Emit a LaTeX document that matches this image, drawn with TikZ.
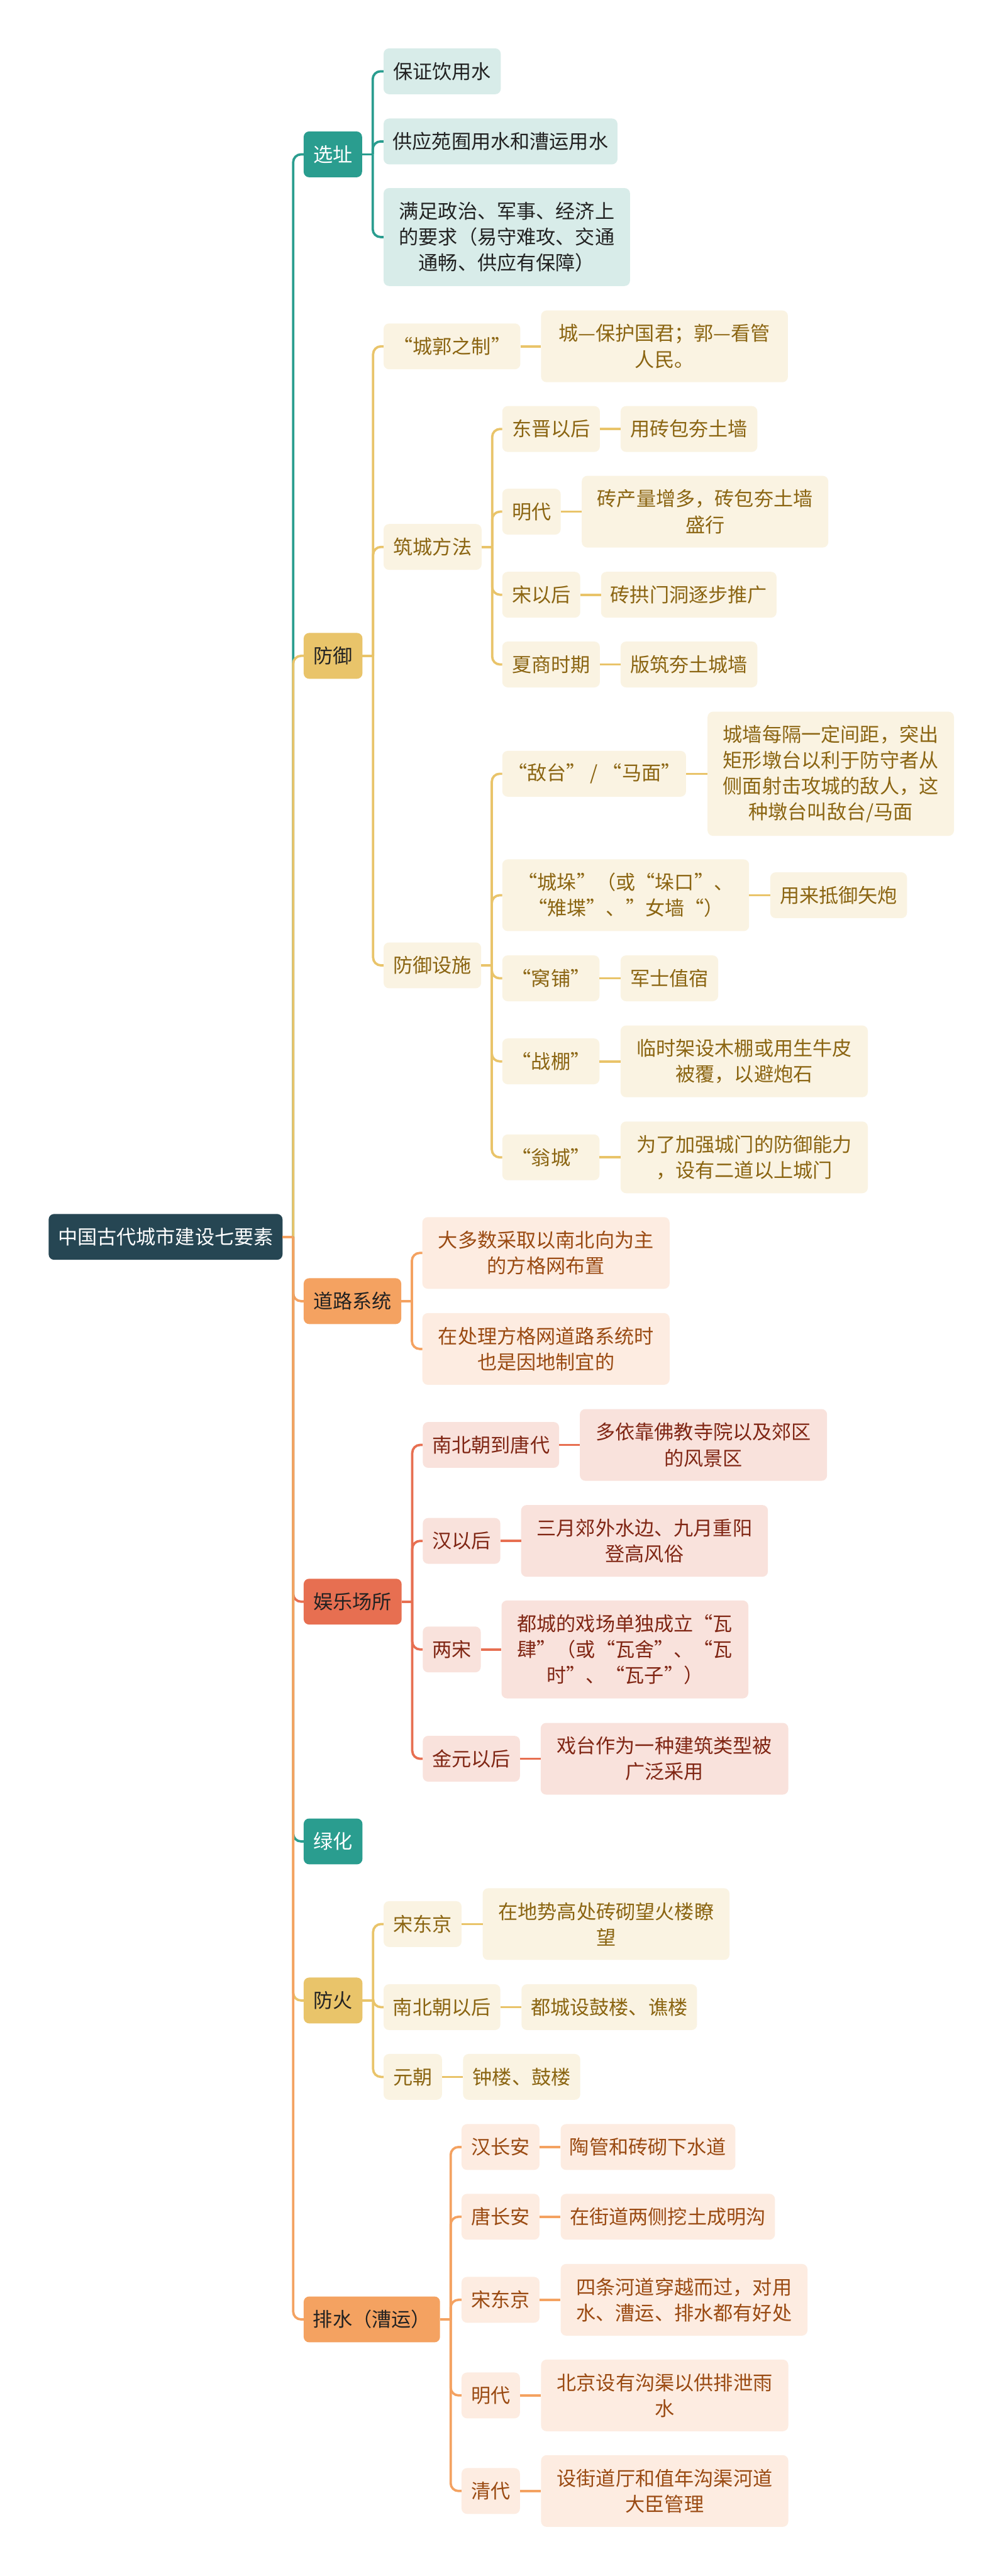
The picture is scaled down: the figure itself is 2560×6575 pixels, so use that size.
\documentclass[tikz,border=0pt]{standalone}
\usepackage{fontspec}
\setmainfont{Noto Sans CJK SC}
\usetikzlibrary{calc}
\definecolor{cRoot}{HTML}{264653}
\definecolor{cTeal}{HTML}{2A9D8F}
\definecolor{cTealL}{HTML}{D8ECE9}
\definecolor{cGold}{HTML}{E9C46A}
\definecolor{cGoldL}{HTML}{FAF3E2}
\definecolor{cGoldT}{HTML}{8B6512}
\definecolor{cOra}{HTML}{F4A261}
\definecolor{cOraL}{HTML}{FDECE1}
\definecolor{cOraT}{HTML}{9A4A12}
\definecolor{cRed}{HTML}{E76F51}
\definecolor{cRedL}{HTML}{F9E2DC}
\definecolor{cRedT}{HTML}{802614}
\definecolor{cDark}{HTML}{222222}
\newcommand\mmfs{\fontsize{50pt}{66pt}\selectfont}
\newcommand\mmbranch[3]{%
  \draw[conn,#1] (#2.east) -- ++(27,0);
  \draw[conn,#1,rounded corners=20pt] ($(#2.east)+(27,0)$) |- (#3.west);}
\newcommand\mmleaf[3]{\draw[conn,#1] (#2.east) -- (#3.west);}
\tikzset{
  conn/.style={line width=6pt},
  nd/.style={rounded corners=14pt, inner sep=0pt, align=center, anchor=west, font=\mmfs},
  wh/.style 2 args={minimum width=#1pt, minimum height=#2pt},
  rootn/.style={nd, fill=cRoot, text=white},
  tealA/.style={nd, fill=cTeal, text=white},
  tealB/.style={nd, fill=cTealL, text=cDark},
  goldA/.style={nd, fill=cGold, text=cDark},
  goldB/.style={nd, fill=cGoldL, text=cGoldT},
  oraA/.style={nd, fill=cOra, text=cDark},
  oraB/.style={nd, fill=cOraL, text=cOraT},
  redA/.style={nd, fill=cRed, text=cDark},
  redB/.style={nd, fill=cRedL, text=cRedT},
}
\begin{document}
\begin{tikzpicture}[x=1pt,y=-1pt]
\fill[white] (0,0) rectangle (2560,6575);
\useasboundingbox (0,0) rectangle (2560,6575);

% root and level 1
\node[rootn, wh={597}{117}] (root) at (124,3157) {中国古代城市建设七要素};
\node[tealA, wh={149}{117}] (s1) at (775,394) {选址};
\node[goldA, wh={150}{117}] (s2) at (775,1674) {防御};
\node[oraA, wh={249}{117}] (s3) at (775,3321) {道路系统};
\node[redA, wh={250}{117}] (s4) at (775,4088) {娱乐场所};
\node[tealA, wh={150}{117}] (s5) at (775,4700) {绿化};
\node[goldA, wh={150}{117}] (s6) at (775,5106) {防火};
\node[oraA, wh={348}{117}] (s7) at (775,5920) {排水（漕运）};

% 选址
\node[tealB, wh={299}{117}] (a1) at (979,182) {保证饮用水};
\node[tealB, wh={597}{117}] (a2) at (979,361) {供应苑囿用水和漕运用水};
\node[tealB, wh={629}{250}] (a3) at (979,605) {满足政治、军事、经济上\\的要求（易守难攻、交通\\通畅、供应有保障）};

% 防御
\node[goldB, wh={349}{117}] (b1) at (979,884) {“城郭之制”};
\node[goldB, wh={630}{183}] (b1l) at (1381,884) {城—保护国君；郭—看管\\人民。};
\node[goldB, wh={250}{117}] (b2) at (979,1396) {筑城方法};
\node[goldB, wh={249}{117}] (b21) at (1282,1095) {东晋以后};
\node[goldB, wh={349}{117}] (b21l) at (1584,1095) {用砖包夯土墙};
\node[goldB, wh={149}{117}] (b22) at (1282,1306) {明代};
\node[goldB, wh={629}{183}] (b22l) at (1485,1306) {砖产量增多，砖包夯土墙\\盛行};
\node[goldB, wh={199}{117}] (b23) at (1282,1518) {宋以后};
\node[goldB, wh={448}{117}] (b23l) at (1534,1518) {砖拱门洞逐步推广};
\node[goldB, wh={249}{117}] (b24) at (1282,1696) {夏商时期};
\node[goldB, wh={349}{117}] (b24l) at (1584,1696) {版筑夯土城墙};
\node[goldB, wh={249}{117}] (b3) at (979,2464) {防御设施};
\node[goldB, wh={469}{117}] (b31) at (1282,1975) {“敌台” / “马面”};
\node[goldB, wh={629}{317}] (b31l) at (1806,1975) {城墙每隔一定间距，突出\\矩形墩台以利于防守者从\\侧面射击攻城的敌人，这\\种墩台叫敌台/马面};
\node[goldB, wh={630}{183}] (b32) at (1282,2285) {“城垛”（或“垛口”、\\“雉堞”、”女墙“）};
\node[goldB, wh={349}{117}] (b32l) at (1966,2285) {用来抵御矢炮};
\node[goldB, wh={248}{117}] (b33) at (1282,2497) {“窝铺”};
\node[goldB, wh={249}{117}] (b33l) at (1584,2497) {军士值宿};
\node[goldB, wh={248}{117}] (b34) at (1282,2709) {“战棚”};
\node[goldB, wh={631}{183}] (b34l) at (1584,2709) {临时架设木棚或用生牛皮\\被覆，以避炮石};
\node[goldB, wh={248}{117}] (b35) at (1282,2954) {“翁城”};
\node[goldB, wh={631}{183}] (b35l) at (1584,2954) {为了加强城门的防御能力\\，设有二道以上城门};

% 道路系统
\node[oraB, wh={631}{183}] (c1) at (1078,3198) {大多数采取以南北向为主\\的方格网布置};
\node[oraB, wh={631}{183}] (c2) at (1078,3443) {在处理方格网道路系统时\\也是因地制宜的};

% 娱乐场所
\node[redB, wh={348}{117}] (d1) at (1079,3688) {南北朝到唐代};
\node[redB, wh={631}{183}] (d1l) at (1480,3688) {多依靠佛教寺院以及郊区\\的风景区};
\node[redB, wh={198}{117}] (d2) at (1079,3933) {汉以后};
\node[redB, wh={630}{183}] (d2l) at (1330,3933) {三月郊外水边、九月重阳\\登高风俗};
\node[redB, wh={148}{117}] (d3) at (1079,4210) {两宋};
\node[redB, wh={630}{250}] (d3l) at (1280,4210) {都城的戏场单独成立“瓦\\肆”（或“瓦舍”、“瓦\\时”、“瓦子”）};
\node[redB, wh={248}{117}] (d4) at (1079,4489) {金元以后};
\node[redB, wh={632}{183}] (d4l) at (1380,4489) {戏台作为一种建筑类型被\\广泛采用};

% 防火
\node[goldB, wh={199}{117}] (f1) at (979,4911) {宋东京};
\node[goldB, wh={630}{183}] (f1l) at (1232,4911) {在地势高处砖砌望火楼瞭\\望};
\node[goldB, wh={298}{117}] (f2) at (979,5123) {南北朝以后};
\node[goldB, wh={448}{117}] (f2l) at (1331,5123) {都城设鼓楼、谯楼};
\node[goldB, wh={149}{117}] (f3) at (979,5301) {元朝};
\node[goldB, wh={299}{117}] (f3l) at (1182,5301) {钟楼、鼓楼};

% 排水
\node[oraB, wh={199}{117}] (g1) at (1178,5480) {汉长安};
\node[oraB, wh={446}{117}] (g1l) at (1431,5480) {陶管和砖砌下水道};
\node[oraB, wh={199}{117}] (g2) at (1178,5658) {唐长安};
\node[oraB, wh={547}{117}] (g2l) at (1431,5658) {在街道两侧挖土成明沟};
\node[oraB, wh={199}{117}] (g3) at (1178,5870) {宋东京};
\node[oraB, wh={630}{183}] (g3l) at (1431,5870) {四条河道穿越而过，对用\\水、漕运、排水都有好处};
\node[oraB, wh={149}{117}] (g4) at (1178,6114) {明代};
\node[oraB, wh={631}{183}] (g4l) at (1381,6114) {北京设有沟渠以供排泄雨\\水};
\node[oraB, wh={149}{117}] (g5) at (1178,6358) {清代};
\node[oraB, wh={631}{183}] (g5l) at (1381,6358) {设街道厅和值年沟渠河道\\大臣管理};

% connectors: root to level 1 (drawn in order, later on top)
\mmbranch{cTeal}{root}{s1}
\mmbranch{cGold}{root}{s2}
\mmbranch{cOra}{root}{s3}
\mmbranch{cRed}{root}{s4}
\mmbranch{cTeal}{root}{s5}
\mmbranch{cGold}{root}{s6}
\mmbranch{cOra}{root}{s7}

% 选址
\mmbranch{cTeal}{s1}{a1}
\mmbranch{cTeal}{s1}{a2}
\mmbranch{cTeal}{s1}{a3}

% 防御
\mmbranch{cGold}{s2}{b1}
\mmbranch{cGold}{s2}{b2}
\mmbranch{cGold}{s2}{b3}
\mmleaf{cGold}{b1}{b1l}
\mmbranch{cGold}{b2}{b21}
\mmbranch{cGold}{b2}{b22}
\mmbranch{cGold}{b2}{b23}
\mmbranch{cGold}{b2}{b24}
\mmleaf{cGold}{b21}{b21l}
\mmleaf{cGold}{b22}{b22l}
\mmleaf{cGold}{b23}{b23l}
\mmleaf{cGold}{b24}{b24l}
\mmbranch{cGold}{b3}{b31}
\mmbranch{cGold}{b3}{b32}
\mmbranch{cGold}{b3}{b33}
\mmbranch{cGold}{b3}{b34}
\mmbranch{cGold}{b3}{b35}
\mmleaf{cGold}{b31}{b31l}
\mmleaf{cGold}{b32}{b32l}
\mmleaf{cGold}{b33}{b33l}
\mmleaf{cGold}{b34}{b34l}
\mmleaf{cGold}{b35}{b35l}

% 道路系统
\mmbranch{cOra}{s3}{c1}
\mmbranch{cOra}{s3}{c2}

% 娱乐场所
\mmbranch{cRed}{s4}{d1}
\mmbranch{cRed}{s4}{d2}
\mmbranch{cRed}{s4}{d3}
\mmbranch{cRed}{s4}{d4}
\mmleaf{cRed}{d1}{d1l}
\mmleaf{cRed}{d2}{d2l}
\mmleaf{cRed}{d3}{d3l}
\mmleaf{cRed}{d4}{d4l}

% 防火
\mmbranch{cGold}{s6}{f1}
\mmbranch{cGold}{s6}{f2}
\mmbranch{cGold}{s6}{f3}
\mmleaf{cGold}{f1}{f1l}
\mmleaf{cGold}{f2}{f2l}
\mmleaf{cGold}{f3}{f3l}

% 排水
\mmbranch{cOra}{s7}{g1}
\mmbranch{cOra}{s7}{g2}
\mmbranch{cOra}{s7}{g3}
\mmbranch{cOra}{s7}{g4}
\mmbranch{cOra}{s7}{g5}
\mmleaf{cOra}{g1}{g1l}
\mmleaf{cOra}{g2}{g2l}
\mmleaf{cOra}{g3}{g3l}
\mmleaf{cOra}{g4}{g4l}
\mmleaf{cOra}{g5}{g5l}
\end{tikzpicture}
\end{document}
